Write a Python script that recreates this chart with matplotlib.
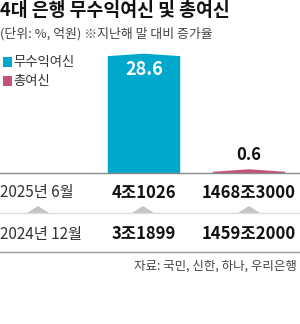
"""4대 은행 무수익여신 및 총여신 - small bar chart with a value table below."""
import matplotlib

matplotlib.use("Agg")
import matplotlib.pyplot as plt  # noqa: E402
from matplotlib.patches import Rectangle, Polygon  # noqa: E402

plt.rcParams["font.family"] = ["Noto Sans CJK KR", "DejaVu Sans"]

# data
series = ["무수익여신", "총여신"]
growth = [28.6, 0.6]  # % 증가율, 지난해 말 대비
growth_labels = ["28.6", "0.6"]
periods = ["2025년 6월", "2024년 12월"]
nonperforming = ["4조1026", "3조1899"]
total_loans = ["1468조3000", "1459조2000"]

BLUE = "#00A8CC"
PINK = "#C4517B"
W, H = 300, 324


def fx(x):
    return x / W


def fy(y):
    # y measured in pixels from the top of the image
    return 1 - y / H


fig = plt.figure(figsize=(W / 100, H / 100), dpi=100)

# bar panel: baseline at y=173 px, 4.13 px per percentage point
base_px = 173
ppu = 4.13
ax_h = 130
ax = fig.add_axes([0, fy(base_px), 1, ax_h / H])
ax.set_xlim(-144 / 105, (W - 144) / 105)
ax.set_ylim(0, ax_h / ppu)
ax.axis("off")

bar_w = 0.69
cap = 0.3  # slight peak on top of each bar
colors = [BLUE, PINK]
for i, (v, c) in enumerate(zip(growth, colors)):
    l, r = i - bar_w / 2, i + bar_w / 2
    pts = [(l, 0), (l, v - cap), (i, v + cap), (r, v - cap), (r, 0)]
    ax.add_patch(Polygon(pts, closed=True, facecolor=c, edgecolor="none"))

ax.text(0, growth[0] - 1.3, growth_labels[0], ha="center", va="top",
        color="white", fontsize=13, fontweight="bold")
ax.text(1, growth[1] + 1.6, growth_labels[1], ha="center", va="bottom",
        color="#111", fontsize=12, fontweight="bold")

# title block
fig.text(fx(0), fy(10), "4대 은행 무수익여신 및 총여신", ha="left", va="center",
         fontsize=13.2, fontweight="bold", color="#111")
fig.text(fx(0), fy(34), "(단위: %, 억원) ※지난해 말 대비 증가율", ha="left",
         va="center", fontsize=9.3, color="#444")

# legend
for yc, name, c in [(62, series[0], BLUE), (81, series[1], PINK)]:
    fig.add_artist(Rectangle((fx(3), fy(yc + 5)), fx(9), 10 / H,
                             transform=fig.transFigure, facecolor=c,
                             edgecolor="none"))
    fig.text(fx(13), fy(yc), name, ha="left", va="center", fontsize=9.6,
             color="#333")

# table lines
fig.add_artist(plt.Line2D([0, 1], [fy(base_px), fy(base_px)],
                          transform=fig.transFigure, color="#8a8a8a", lw=1))
fig.add_artist(plt.Line2D([0, 1], [fy(213), fy(213)],
                          transform=fig.transFigure, color="#dddddd", lw=1))
fig.add_artist(plt.Line2D([0, 1], [fy(252), fy(252)],
                          transform=fig.transFigure, color="#9a9a9a", lw=1))

# small up-pointing triangles on the middle rule
for xc in [38, 143, 249]:
    tri = [(fx(xc - 11), fy(213)), (fx(xc), fy(206)), (fx(xc + 11), fy(213))]
    fig.add_artist(Polygon(tri, closed=True, transform=fig.transFigure,
                           facecolor="#c4c4c4", edgecolor="none"))

# table rows
for yc, p, a, b in zip([193, 234], periods, nonperforming, total_loans):
    fig.text(fx(0), fy(yc), p, ha="left", va="center", fontsize=11,
             color="#333")
    fig.text(fx(144), fy(yc), a, ha="center", va="center", fontsize=12,
             fontweight="bold", color="#111")
    fig.text(fx(249), fy(yc), b, ha="center", va="center", fontsize=12,
             fontweight="bold", color="#111")

fig.text(fx(297), fy(266), "자료: 국민, 신한, 하나, 우리은행", ha="right",
         va="center", fontsize=9, color="#444")

fig.savefig("out.png", dpi=100)
